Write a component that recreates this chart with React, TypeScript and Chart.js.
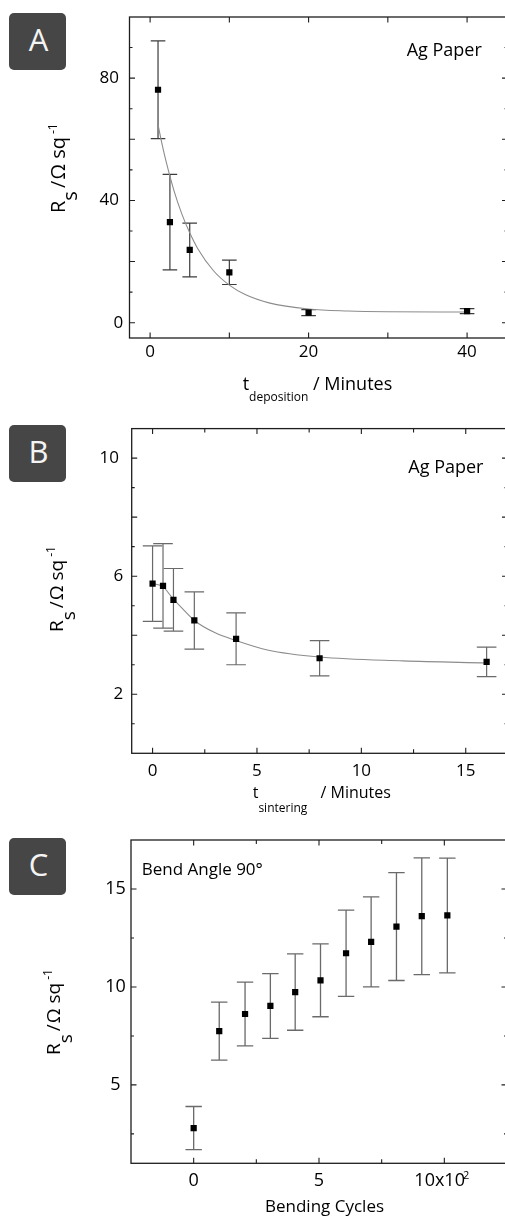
import React, { useEffect, useRef } from "react";
import { Chart, registerables } from "chart.js";

Chart.register(...registerables);

const FONT = "'Open Sans', 'Noto Sans', sans-serif";

// ---------------- Panel A : R_s vs deposition time ----------------
const A_T_DEPOSITION = [1, 2.5, 5, 10, 20, 40];
const A_RS = [76.2, 32.9, 23.8, 16.5, 3.3, 3.8];
const A_RS_ERR = [16, 15.6, 8.8, 4, 1, 0.8];
const A_FIT_T = [1, 1.5, 2, 3, 4, 5, 6, 8, 10, 12, 15, 20, 25, 30, 40];
const A_FIT_RS = [64.8, 58.5, 52.9, 43.3, 35.6, 29.4, 24.3, 17.0, 12.3, 9.2, 6.5, 4.5, 3.85, 3.6, 3.5];
const A_X_LABELS = [0, 20, 40];
const A_X_MAJOR = [0, 10, 20, 30, 40];
const A_X_MINOR: number[] = [];
const A_Y_LABELS = [0, 40, 80];
const A_Y_MAJOR = [0, 20, 40, 60, 80];
const A_Y_MINOR = [10, 30, 50, 70, 90];

// ---------------- Panel B : R_s vs sintering time ----------------
const B_T_SINTERING = [0, 0.5, 1, 2, 4, 8, 16];
const B_RS = [5.75, 5.67, 5.2, 4.5, 3.88, 3.22, 3.1];
const B_RS_ERR = [1.28, 1.43, 1.06, 0.97, 0.88, 0.6, 0.5];
const B_FIT_T = [0, 0.5, 1, 1.5, 2, 3, 4, 5.5, 8, 12, 16];
const B_FIT_RS = [5.75, 5.64, 5.22, 4.85, 4.5, 4.08, 3.82, 3.5, 3.26, 3.13, 3.06];
const B_X_LABELS = [0, 5, 10, 15];
const B_X_MAJOR = [0, 5, 10, 15];
const B_X_MINOR = [2.5, 7.5, 12.5];
const B_Y_LABELS = [2, 6, 10];
const B_Y_MAJOR = [2, 4, 6, 8, 10];
const B_Y_MINOR = [1, 3, 5, 7, 9];

// ---------------- Panel C : R_s vs bending cycles (x10^2) ----------------
const C_CYCLES = [0, 1.02, 2.05, 3.06, 4.05, 5.06, 6.08, 7.08, 8.09, 9.1, 10.12];
const C_RS = [2.8, 7.75, 8.62, 9.03, 9.74, 10.34, 11.72, 12.3, 13.08, 13.61, 13.65];
const C_RS_ERR = [1.1, 1.48, 1.63, 1.65, 1.95, 1.86, 2.2, 2.3, 2.75, 2.98, 2.93];
const C_X_LABELS = [0, 5, 10];
const C_X_MAJOR = [0, 5, 10];
const C_X_MINOR = [2.5, 7.5];
const C_Y_LABELS = [5, 10, 15];
const C_Y_MAJOR = [5, 10, 15];
const C_Y_MINOR = [2.5, 7.5, 12.5];

type Seg = { text: string; size: number; dy?: number; gap?: number };
type TextItem = { x: number; y: number; rotate?: boolean; segs: Seg[] };

type PanelSpec = {
  top: number;
  height: number;
  padTop: number;
  padRight: number;
  yWidth: number;
  xHeight: number;
  xMin: number;
  xMax: number;
  yMin: number;
  yMax: number;
  xs: number[];
  ys: number[];
  errs: number[];
  fitX?: number[];
  fitY?: number[];
  xLabels: number[];
  yLabels: number[];
  xMajor: number[];
  xMinor: number[];
  yMajor: number[];
  yMinor: number[];
  tickFont: number;
  xTickPad: number;
  yTickPad: number;
  yCross: "near" | "center";
  padTwoDigit: boolean;
  xLabelFmt?: (v: number) => string;
  capHalf: number;
  errColor: string;
  errWidth: number;
  texts: TextItem[];
};

function drawRich(ctx: CanvasRenderingContext2D, item: TextItem) {
  ctx.save();
  ctx.translate(item.x, item.y);
  if (item.rotate) ctx.rotate(-Math.PI / 2);
  ctx.fillStyle = "#000";
  ctx.textBaseline = "alphabetic";
  ctx.textAlign = "left";
  let cx = 0;
  for (const s of item.segs) {
    ctx.font = `${s.size}px ${FONT}`;
    cx += s.gap || 0;
    ctx.fillText(s.text, cx, s.dy || 0);
    cx += ctx.measureText(s.text).width;
  }
  ctx.restore();
}

function makeDecor(spec: PanelSpec) {
  return {
    id: "decor",
    beforeDatasetsDraw(chart: any) {
      const ctx: CanvasRenderingContext2D = chart.ctx;
      const sx = chart.scales.x;
      const sy = chart.scales.y;
      ctx.save();
      ctx.strokeStyle = spec.errColor;
      ctx.lineWidth = spec.errWidth;
      spec.xs.forEach((xv, i) => {
        const e = spec.errs[i];
        const px = sx.getPixelForValue(xv);
        const y1 = sy.getPixelForValue(spec.ys[i] + e);
        const y2 = sy.getPixelForValue(spec.ys[i] - e);
        ctx.beginPath();
        ctx.moveTo(px, y1);
        ctx.lineTo(px, y2);
        ctx.moveTo(px - spec.capHalf, y1);
        ctx.lineTo(px + spec.capHalf, y1);
        ctx.moveTo(px - spec.capHalf, y2);
        ctx.lineTo(px + spec.capHalf, y2);
        ctx.stroke();
      });
      ctx.restore();
    },
    afterDraw(chart: any) {
      const ctx: CanvasRenderingContext2D = chart.ctx;
      const a = chart.chartArea;
      const sx = chart.scales.x;
      const sy = chart.scales.y;
      ctx.save();
      ctx.strokeStyle = "#1e1e1e";
      ctx.lineWidth = 1.3;
      ctx.strokeRect(a.left, a.top, a.right - a.left, a.bottom - a.top);
      ctx.lineWidth = 1.1;
      ctx.beginPath();
      const xt = (vals: number[], len: number) => {
        vals.forEach((v) => {
          const p = sx.getPixelForValue(v);
          ctx.moveTo(p, a.bottom);
          ctx.lineTo(p, a.bottom - len);
          ctx.moveTo(p, a.top);
          ctx.lineTo(p, a.top + len);
        });
      };
      const yt = (vals: number[], len: number) => {
        vals.forEach((v) => {
          const p = sy.getPixelForValue(v);
          ctx.moveTo(a.left, p);
          ctx.lineTo(a.left + len, p);
          ctx.moveTo(a.right, p);
          ctx.lineTo(a.right - len, p);
        });
      };
      xt(spec.xMajor, 5.5);
      xt(spec.xMinor, 4);
      yt(spec.yMajor, 5.5);
      yt(spec.yMinor, 3);
      ctx.stroke();
      ctx.restore();
      spec.texts.forEach((t) => drawRich(ctx, t));
    },
  };
}

function makeConfig(spec: PanelSpec): any {
  const pts = spec.xs.map((x, i) => ({ x, y: spec.ys[i] }));
  const datasets: any[] = [
    {
      data: pts,
      showLine: false,
      pointStyle: "rect",
      pointRadius: 4.4,
      pointHoverRadius: 4.4,
      backgroundColor: "#000",
      borderColor: "#000",
      borderWidth: 0,
    },
  ];
  if (spec.fitX && spec.fitY) {
    const fy = spec.fitY;
    datasets.push({
      data: spec.fitX.map((x, i) => ({ x, y: fy[i] })),
      showLine: true,
      pointRadius: 0,
      borderColor: "#8c8c8c",
      borderWidth: 1.1,
      cubicInterpolationMode: "monotone",
      fill: false,
    });
  }
  const tickFont = { family: FONT, size: spec.tickFont };
  return {
    type: "scatter",
    data: { datasets },
    options: {
      responsive: false,
      animation: false,
      devicePixelRatio: 1,
      events: [],
      layout: { padding: { top: spec.padTop, right: spec.padRight, bottom: 0, left: 0 } },
      plugins: { legend: { display: false }, tooltip: { enabled: false } },
      scales: {
        x: {
          type: "linear",
          min: spec.xMin,
          max: spec.xMax,
          grid: { display: false, drawTicks: false },
          border: { display: false },
          afterBuildTicks: (s: any) => {
            s.ticks = spec.xLabels.map((v) => ({ value: v }));
          },
          afterFit: (s: any) => {
            s.height = spec.xHeight;
          },
          ticks: {
            font: tickFont,
            color: "#000",
            padding: spec.xTickPad,
            maxRotation: 0,
            autoSkip: false,
            callback: (v: number) => (spec.xLabelFmt ? spec.xLabelFmt(v) : String(v)),
          },
        },
        y: {
          type: "linear",
          min: spec.yMin,
          max: spec.yMax,
          grid: { display: false, drawTicks: false },
          border: { display: false },
          afterBuildTicks: (s: any) => {
            s.ticks = spec.yLabels.map((v) => ({ value: v }));
          },
          afterFit: (s: any) => {
            s.width = spec.yWidth;
          },
          ticks: {
            font: tickFont,
            color: "#000",
            padding: spec.yTickPad,
            crossAlign: spec.yCross,
            autoSkip: false,
            callback: (v: number) => {
              const s = String(v);
              return spec.padTwoDigit && s.length > 1 ? s + " " : s;
            },
          },
        },
      },
    },
    plugins: [makeDecor(spec)],
  };
}

const Y_TITLE = (size: number): Seg[] => [
  { text: "R", size },
  { text: "s", size, dy: 12 },
  { text: " /", size, gap: -2 },
  { text: "Ω", size, gap: 1 },
  { text: " sq", size },
  { text: "-1", size: 12, dy: -8, gap: 3 },
];

const SPEC_A: PanelSpec = {
  top: 0,
  height: 410,
  padTop: 17,
  padRight: 12.5,
  yWidth: 129.5,
  xHeight: 72,
  xMin: -2.6,
  xMax: 45.1,
  yMin: -5,
  yMax: 100,
  xs: A_T_DEPOSITION,
  ys: A_RS,
  errs: A_RS_ERR,
  fitX: A_FIT_T,
  fitY: A_FIT_RS,
  xLabels: A_X_LABELS,
  yLabels: A_Y_LABELS,
  xMajor: A_X_MAJOR,
  xMinor: A_X_MINOR,
  yMajor: A_Y_MAJOR,
  yMinor: A_Y_MINOR,
  tickFont: 17,
  xTickPad: 3.5,
  yTickPad: 6.2,
  yCross: "near",
  padTwoDigit: true,
  capHalf: 7.3,
  errColor: "#3c3c3c",
  errWidth: 1.2,
  texts: [
    { x: 65, y: 213, rotate: true, segs: Y_TITLE(20) },
    {
      x: 242.7,
      y: 389.5,
      segs: [
        { text: "t", size: 18 },
        { text: "deposition", size: 12, dy: 11 },
        { text: " / Minutes", size: 18 },
      ],
    },
    { x: 406.7, y: 55.5, segs: [{ text: "Ag Paper", size: 18 }] },
  ],
};

const SPEC_B: PanelSpec = {
  top: 410,
  height: 412,
  padTop: 18.3,
  padRight: 12.5,
  yWidth: 131.7,
  xHeight: 68.7,
  xMin: -1,
  xMax: 17,
  yMin: 0,
  yMax: 11,
  xs: B_T_SINTERING,
  ys: B_RS,
  errs: B_RS_ERR,
  fitX: B_FIT_T,
  fitY: B_FIT_RS,
  xLabels: B_X_LABELS,
  yLabels: B_Y_LABELS,
  xMajor: B_X_MAJOR,
  xMinor: B_X_MINOR,
  yMajor: B_Y_MAJOR,
  yMinor: B_Y_MINOR,
  tickFont: 17,
  xTickPad: 7.5,
  yTickPad: 8.4,
  yCross: "near",
  padTwoDigit: true,
  capHalf: 9.8,
  errColor: "#6a6a6a",
  errWidth: 1.2,
  texts: [
    { x: 63.3, y: 222, rotate: true, segs: Y_TITLE(19) },
    {
      x: 252.7,
      y: 388,
      segs: [
        { text: "t", size: 16 },
        { text: "sintering", size: 12, dy: 14 },
        { text: " / Minutes", size: 16, gap: 9 },
      ],
    },
    { x: 408.3, y: 62.5, segs: [{ text: "Ag Paper", size: 18 }] },
  ],
};

const SPEC_C: PanelSpec = {
  top: 810,
  height: 406,
  padTop: 30,
  padRight: 13,
  yWidth: 131,
  xHeight: 52.7,
  xMin: -2.5,
  xMax: 12.5,
  yMin: 1,
  yMax: 17.5,
  xs: C_CYCLES,
  ys: C_RS,
  errs: C_RS_ERR,
  xLabels: C_X_LABELS,
  yLabels: C_Y_LABELS,
  xMajor: C_X_MAJOR,
  xMinor: C_X_MINOR,
  yMajor: C_Y_MAJOR,
  yMinor: C_Y_MINOR,
  tickFont: 18,
  xTickPad: 6.7,
  yTickPad: 5.2,
  yCross: "center",
  padTwoDigit: false,
  xLabelFmt: (v: number) => (v === 10 ? "10x10  " : String(v)),
  capHalf: 8.2,
  errColor: "#6a6a6a",
  errWidth: 1.3,
  texts: [
    { x: 60, y: 245, rotate: true, segs: Y_TITLE(19) },
    { x: 463, y: 369, segs: [{ text: "2", size: 11 }] },
    { x: 265, y: 402, segs: [{ text: "Bending Cycles", size: 17 }] },
    { x: 141.7, y: 65, segs: [{ text: "Bend Angle 90°", size: 17 }] },
  ],
};

function Panel({ spec }: { spec: PanelSpec }) {
  const ref = useRef<HTMLCanvasElement | null>(null);
  useEffect(() => {
    if (!ref.current) return;
    const chart = new Chart(ref.current, makeConfig(spec));
    return () => chart.destroy();
  }, [spec]);
  return (
    <canvas
      ref={ref}
      width={520}
      height={spec.height}
      style={{ position: "absolute", left: 0, top: spec.top, width: 520, height: spec.height }}
    />
  );
}

const PANEL_LETTERS = ["A", "B", "C"];
const PANEL_LETTER_TOPS = [13, 425, 838.3];

export default function App() {
  return (
    <div
      style={{
        position: "fixed",
        left: 0,
        top: 0,
        width: 505,
        height: 1216,
        overflow: "hidden",
        background: "#fff",
      }}
    >
      <Panel spec={SPEC_A} />
      <Panel spec={SPEC_B} />
      <Panel spec={SPEC_C} />
      {PANEL_LETTERS.map((l, i) => (
        <div
          key={l}
          style={{
            position: "absolute",
            left: 9,
            top: PANEL_LETTER_TOPS[i],
            width: 57,
            height: 57,
            borderRadius: 5,
            background: "#464646",
            color: "#f4f4f4",
            fontFamily: FONT,
            fontSize: 31,
            lineHeight: "57px",
            textAlign: "center",
            boxSizing: "border-box",
          }}
        >
          <span style={{ position: "relative", top: -2, left: 1 }}>{l}</span>
        </div>
      ))}
    </div>
  );
}
